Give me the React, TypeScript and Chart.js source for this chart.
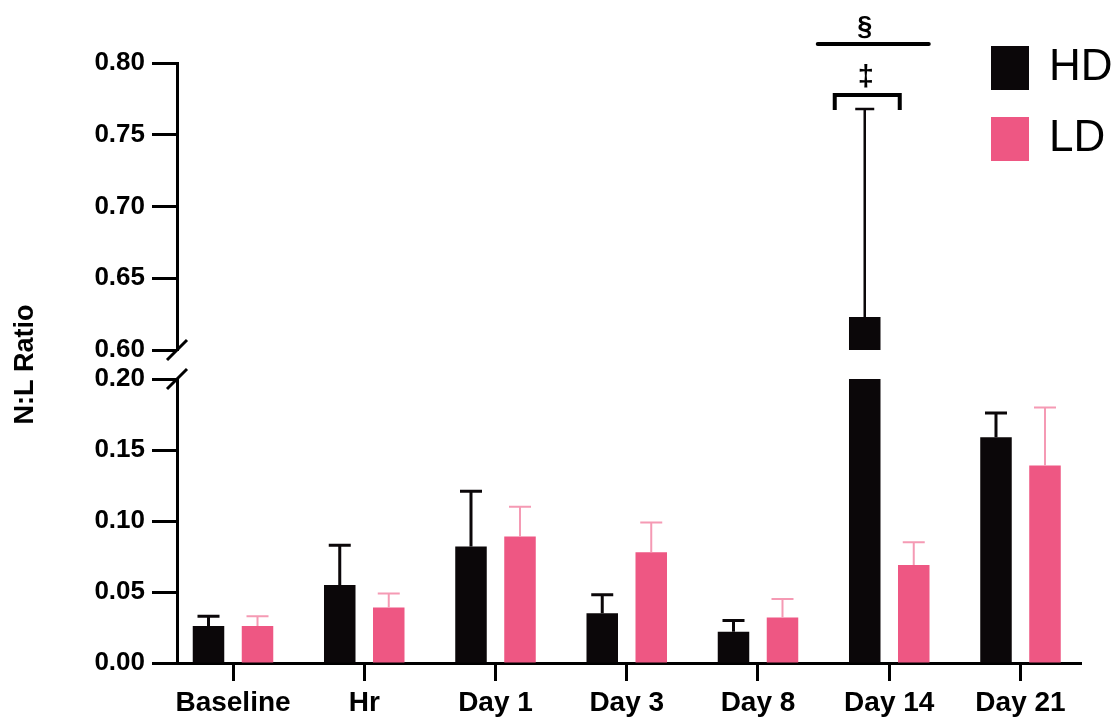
import React, { useEffect, useRef } from 'react';
import { Chart, registerables } from 'chart.js';

Chart.register(...registerables);

// ---------- data ----------
const categories = ['Baseline', 'Hr', 'Day 1', 'Day 3', 'Day 8', 'Day 14', 'Day 21'];
const seriesNames = ['HD', 'LD'];
const hdMeans = [0.026, 0.055, 0.082, 0.035, 0.022, 0.623, 0.159];
const hdErrors = [0.007, 0.028, 0.039, 0.013, 0.008, 0.145, 0.017];
const ldMeans = [0.026, 0.039, 0.089, 0.078, 0.032, 0.069, 0.139];
const ldErrors = [0.007, 0.010, 0.021, 0.021, 0.013, 0.016, 0.041];
const lowerTicks = [0, 0.05, 0.1, 0.15, 0.2];
const upperTicks = [0.6, 0.65, 0.7, 0.75, 0.8];
const yAxisTitle = 'N:L Ratio';
const hdMark = '‡';
const groupMark = '§';

const LOWER_MAX = 0.2;
const UPPER_MIN = 0.6;
const UPPER_MAX = 0.8;

// ---------- styles ----------
const FONT = '"Liberation Sans", Arial, Helvetica, sans-serif';
const HD_COLOR = '#0b0709';
const LD_COLOR = '#ee5783';
const LD_ERR_COLOR = '#f59ab4';
const X_MIN = -0.4267;
const X_MAX = 6.461;
const CAT_PCT = 0.7467;
const BAR_PCT = 0.643;

const lowerHD = hdMeans.map((v, i) => ({ x: i, y: Math.min(v, LOWER_MAX) }));
const upperHD = hdMeans.map((v, i) => ({ x: i, y: v > UPPER_MIN ? v : null }));
const lowerLD = ldMeans.map((v, i) => ({ x: i, y: Math.min(v, LOWER_MAX) }));

const errorBarsPlugin = {
  id: 'errorBars',
  afterDatasetsDraw(chart: any) {
    const ctx = chart.ctx;
    const series = [
      { means: hdMeans, errors: hdErrors, color: HD_COLOR, width: 3, lower: 0, upper: 2, cap: 22 },
      { means: ldMeans, errors: ldErrors, color: LD_ERR_COLOR, width: 2, lower: 1, upper: 1, cap: 22 },
    ];
    ctx.save();
    for (const s of series) {
      s.means.forEach((m: number, i: number) => {
        const dsIndex = m > UPPER_MIN ? s.upper : s.lower;
        const meta = chart.getDatasetMeta(dsIndex);
        const el = meta.data[i];
        if (!el) return;
        const scale = chart.scales[meta.yAxisID];
        const yTop = scale.getPixelForValue(m);
        const yCap = scale.getPixelForValue(m + s.errors[i]);
        const upper = m > UPPER_MIN;
        ctx.strokeStyle = s.color;
        ctx.lineWidth = upper ? 2.5 : s.width;
        const cap = upper ? 19 : s.cap;
        ctx.lineCap = 'butt';
        ctx.beginPath();
        ctx.moveTo(el.x, yTop);
        ctx.lineTo(el.x, yCap);
        ctx.moveTo(el.x - cap / 2, yCap);
        ctx.lineTo(el.x + cap / 2, yCap);
        ctx.stroke();
      });
    }
    ctx.restore();
  },
};

const axisBreakPlugin = {
  id: 'axisBreak',
  afterDraw(chart: any) {
    const ctx = chart.ctx;
    const x = chart.chartArea.left;
    const ys = [chart.scales.y.getPixelForValue(LOWER_MAX), chart.scales.yHigh.getPixelForValue(UPPER_MIN)];
    ctx.save();
    ctx.strokeStyle = '#000';
    ctx.lineWidth = 3;
    for (const y of ys) {
      ctx.beginPath();
      ctx.moveTo(x - 10, y + 10);
      ctx.lineTo(x + 10, y - 10);
      ctx.stroke();
    }
    ctx.restore();
  },
};

const annotationPlugin = {
  id: 'sigMarks',
  afterDraw(chart: any) {
    const ctx = chart.ctx;
    const idx = hdMeans.findIndex((v) => v > UPPER_MIN);
    if (idx < 0) return;
    const el = chart.getDatasetMeta(2).data[idx];
    const hx = el.x;
    const top = chart.chartArea.top;
    ctx.save();
    ctx.strokeStyle = '#000';
    ctx.fillStyle = '#000';
    ctx.lineWidth = 4;
    ctx.lineCap = 'round';
    // group line (§)
    ctx.beginPath();
    ctx.moveTo(hx - 47, top - 19);
    ctx.lineTo(hx + 64, top - 19);
    ctx.stroke();
    // bracket (‡)
    ctx.lineJoin = 'miter';
    ctx.lineCap = 'butt';
    ctx.beginPath();
    ctx.moveTo(hx - 30, top + 47);
    ctx.lineTo(hx - 30, top + 32);
    ctx.lineTo(hx + 35, top + 32);
    ctx.lineTo(hx + 35, top + 47);
    ctx.stroke();
    ctx.textAlign = 'center';
    ctx.textBaseline = 'middle';
    ctx.font = `bold 27px ${FONT}`;
    ctx.fillText(groupMark, hx, top - 35);
    ctx.font = `bold 29px ${FONT}`;
    ctx.fillText(hdMark, hx + 1, top + 15);
    ctx.restore();
  },
};

const legendPlugin = {
  id: 'customLegend',
  afterDraw(chart: any) {
    const ctx = chart.ctx;
    const ds = chart.data.datasets;
    const rows = [
      { label: ds[0].label, color: ds[0].backgroundColor, y: 46 },
      { label: ds[1].label, color: ds[1].backgroundColor, y: 117 },
    ];
    ctx.save();
    ctx.font = `44px ${FONT}`;
    ctx.textAlign = 'left';
    ctx.textBaseline = 'middle';
    for (const r of rows) {
      ctx.fillStyle = r.color;
      ctx.fillRect(991, r.y, 38, 44);
      ctx.fillStyle = '#000';
      ctx.fillText(r.label, 1049, r.y + 22);
    }
    ctx.restore();
  },
};

const yScale = (ticksArr: number[], min: number, max: number, weight: number) => ({
  type: 'linear',
  position: 'left',
  stack: 'nl',
  stackWeight: weight,
  stacked: false,
  min,
  max,
  grid: {
    display: true,
    offset: false,
    drawOnChartArea: false,
    drawTicks: true,
    tickLength: 25,
    tickWidth: 3,
    tickColor: '#000',
    color: '#000',
  },
  border: { display: true, color: '#000', width: 3 },
  ticks: {
    color: '#000',
    padding: 7,
    font: { family: FONT, size: 26, weight: 'bold' },
    callback: (v: any) => Number(v).toFixed(2),
  },
  afterBuildTicks: (s: any) => {
    s.ticks = ticksArr.map((v) => ({ value: v }));
  },
  afterFit: (s: any) => {
    s.width = 177;
  },
});

export default function App() {
  const ref = useRef<HTMLCanvasElement>(null);
  useEffect(() => {
    const canvas = ref.current;
    if (!canvas) return;
    const barCommon = { categoryPercentage: CAT_PCT, barPercentage: BAR_PCT, borderWidth: 0 };
    const chart = new Chart(canvas, {
      type: 'bar',
      data: {
        datasets: [
          { label: seriesNames[0], data: lowerHD, backgroundColor: HD_COLOR, yAxisID: 'y', stack: 'hd', ...barCommon },
          { label: seriesNames[1], data: lowerLD, backgroundColor: LD_COLOR, yAxisID: 'y', stack: 'ld', ...barCommon },
          { label: seriesNames[0], data: upperHD, backgroundColor: HD_COLOR, yAxisID: 'yHigh', stack: 'hd', ...barCommon },
        ],
      } as any,
      options: {
        responsive: false,
        animation: false,
        events: [],
        layout: { padding: { top: 63, right: 36, bottom: 0, left: 0 } },
        plugins: { legend: { display: false }, tooltip: { enabled: false }, title: { display: false } },
        scales: {
          x: {
            type: 'linear',
            min: X_MIN,
            max: X_MAX,
            offset: false,
            grid: {
              display: true,
              offset: false,
              drawOnChartArea: false,
              drawTicks: true,
              tickLength: 18,
              tickWidth: 3,
              tickColor: '#000',
              color: '#000',
            },
            border: { display: true, color: '#000', width: 3 },
            ticks: {
              autoSkip: false,
              maxRotation: 0,
              minRotation: 0,
              padding: 5,
              color: '#000',
              font: { family: FONT, size: 28, weight: 'bold' },
              callback: (v: any) => categories[Math.round(Number(v))] ?? '',
            },
            afterBuildTicks: (s: any) => {
              s.ticks = categories.map((_, i) => ({ value: i }));
            },
            afterFit: (s: any) => {
              s.height = 57;
            },
          },
          y: yScale(lowerTicks, 0, LOWER_MAX, 284),
          yGap: {
            type: 'linear',
            position: 'left',
            stack: 'nl',
            stackWeight: 29,
            min: 0,
            max: 1,
            grid: { display: false },
            border: { display: false },
            ticks: { display: false },
            title: {
              display: true,
              text: yAxisTitle,
              color: '#000',
              font: { family: FONT, size: 27, weight: 'bold' },
              padding: { top: 9, bottom: 0 },
            },
            afterFit: (s: any) => {
              s.width = 177;
            },
          },
          yHigh: yScale(upperTicks, UPPER_MIN, UPPER_MAX, 287),
        } as any,
      },
      plugins: [errorBarsPlugin, axisBreakPlugin, annotationPlugin, legendPlugin],
    } as any);
    return () => chart.destroy();
  }, []);
  return (
    <div style={{ position: 'fixed', left: 0, top: 0, width: 1117, height: 720, background: '#fff' }}>
      <canvas ref={ref} width={1117} height={720} style={{ display: 'block' }} />
    </div>
  );
}
